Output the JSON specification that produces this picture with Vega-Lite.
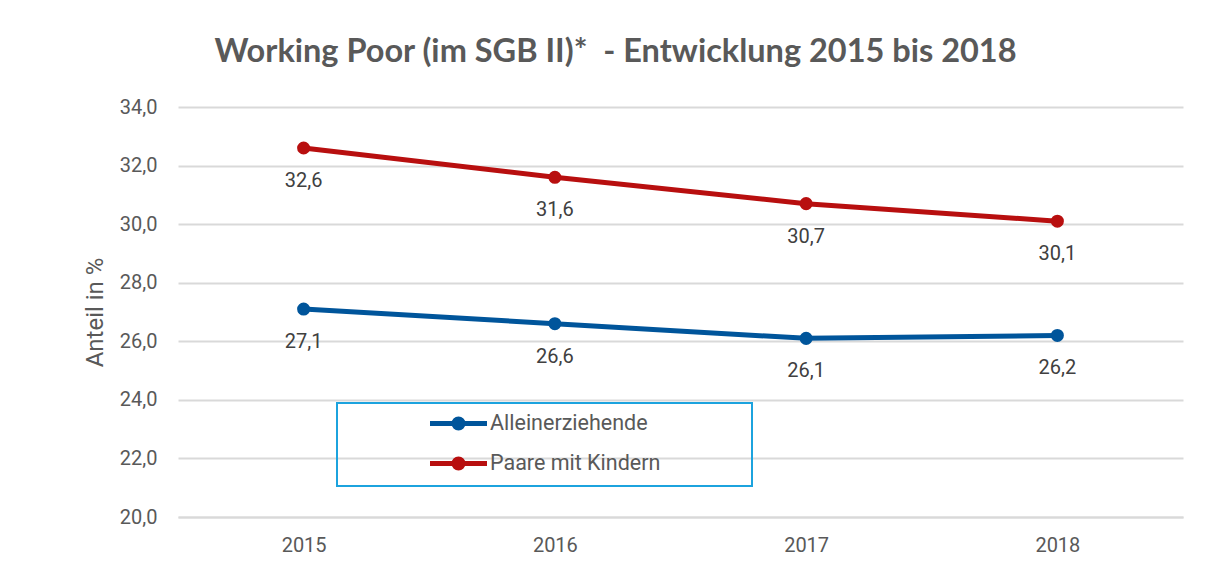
{
  "$schema": "https://vega.github.io/schema/vega-lite/v6.json",
  "width": 1005,
  "height": 410,
  "autosize": {"type": "none"},
  "padding": {"left": 178, "top": 107, "right": 23, "bottom": 46},
  "background": "white",
  "config": {
    "locale": {"number": {"decimal": ",", "thousands": ".", "grouping": [3], "currency": ["", " €"]}},
    "view": {"stroke": null},
    "font": "Roboto"
  },
  "title": {
    "text": "Working Poor (im SGB II)*\u00a0 - Entwicklung 2015 bis 2018",
    "font": "Lato",
    "fontSize": 32.5,
    "fontWeight": "bold",
    "color": "#595959",
    "anchor": "middle",
    "dx": -65,
    "offset": 29
  },
  "data": {
    "values": [
      {"year": "2015", "series": "Alleinerziehende", "value": 27.1},
      {"year": "2016", "series": "Alleinerziehende", "value": 26.6},
      {"year": "2017", "series": "Alleinerziehende", "value": 26.1},
      {"year": "2018", "series": "Alleinerziehende", "value": 26.2},
      {"year": "2015", "series": "Paare mit Kindern", "value": 32.6},
      {"year": "2016", "series": "Paare mit Kindern", "value": 31.6},
      {"year": "2017", "series": "Paare mit Kindern", "value": 30.7},
      {"year": "2018", "series": "Paare mit Kindern", "value": 30.1}
    ]
  },
  "encoding": {
    "x": {
      "field": "year",
      "type": "ordinal",
      "scale": {"type": "point", "padding": 0.5},
      "axis": {
        "title": null,
        "labelAngle": 0,
        "labelFontSize": 20,
        "labelColor": "#595959",
        "labelPadding": 18,
        "ticks": false,
        "grid": false,
        "domainColor": "#D9D9D9",
        "domainWidth": 2
      }
    },
    "y": {
      "field": "value",
      "type": "quantitative",
      "scale": {"domain": [20, 34], "nice": false, "zero": false},
      "axis": {
        "values": [20, 22, 24, 26, 28, 30, 32, 34],
        "format": ".1f",
        "title": "Anteil in %",
        "titleFontSize": 24,
        "titleFontWeight": "normal",
        "titleColor": "#595959",
        "titlePadding": 12,
        "labelFontSize": 20,
        "labelColor": "#595959",
        "labelPadding": 21,
        "ticks": false,
        "domain": false,
        "grid": true,
        "gridColor": "#D9D9D9",
        "gridWidth": 2
      }
    },
    "color": {
      "field": "series",
      "type": "nominal",
      "scale": {"domain": ["Alleinerziehende", "Paare mit Kindern"], "range": ["#00559B", "#B80F0F"]},
      "legend": {
        "orient": "none",
        "legendX": 159,
        "legendY": 296,
        "title": "\u00a0",
        "titleOrient": "right",
        "titlePadding": 84,
        "titleFontSize": 20,
        "padding": 8,
        "strokeColor": "#1CA3DE",
        "symbolOffset": 101,
        "symbolType": "M-2.85,0H2.85M0.45,0C0.45,0.2485 0.2485,0.45 0,0.45C-0.2485,0.45 -0.45,0.2485 -0.45,0C-0.45,-0.2485 -0.2485,-0.45 0,-0.45C0.2485,-0.45 0.45,-0.2485 0.45,0Z",
        "symbolSize": 400,
        "symbolStrokeWidth": 5,
        "labelFontSize": 21.5,
        "labelLimit": 400,
        "labelColor": "#595959",
        "labelOffset": 19,
        "rowPadding": 11,
        "encode": {
          "legend": {"update": {"strokeWidth": {"value": 2}}},
          "symbols": {
            "update": {
              "fill": {"scale": "color", "field": "value"},
              "stroke": {"scale": "color", "field": "value"},
              "strokeWidth": {"value": 5},
              "opacity": {"value": 1}
            }
          }
        }
      }
    }
  },
  "layer": [
    {"mark": {"type": "line", "strokeWidth": 5, "point": {"filled": true, "size": 170, "opacity": 1}}},
    {
      "mark": {"type": "text", "dy": 33, "fontSize": 20, "baseline": "middle"},
      "encoding": {
        "text": {"field": "value", "type": "quantitative", "format": ".1f"},
        "color": {"value": "#404040"}
      }
    }
  ]
}
